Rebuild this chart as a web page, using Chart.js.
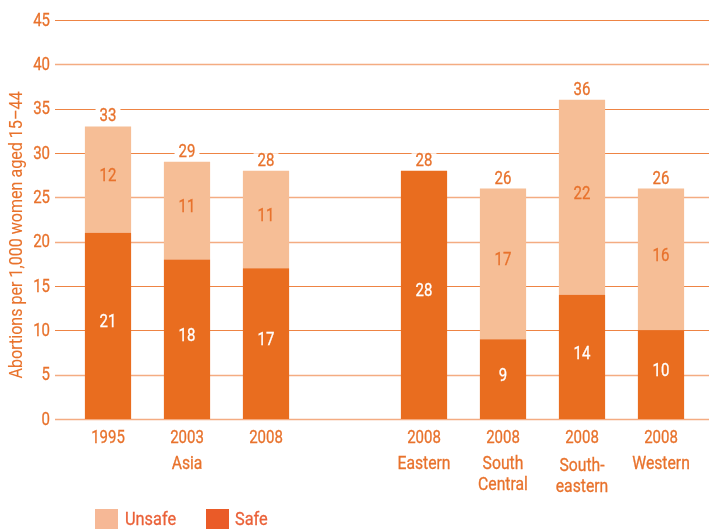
<!DOCTYPE html>
<html>
<head>
<meta charset="utf-8">
<script src="https://cdn.jsdelivr.net/npm/chart.js@4/dist/chart.umd.min.js"></script>
<style>
  html, body { margin: 0; padding: 0; background: #ffffff; }
  #wrap { width: 709px; height: 529px; position: relative; }
</style>
</head>
<body>
<div id="wrap"><canvas id="c" width="709" height="529"></canvas></div>
<script>
// ---- data ----
const years   = ['1995', '2003', '2008', '', '2008', '2008', '2008', '2008'];
const regions = [[], ['Asia'], [], [], ['Eastern'], ['South', 'Central'], ['South-', 'eastern'], ['Western']];
const safe    = [21, 18, 17, null, 28, 9, 14, 10];
const unsafe  = [12, 11, 11, null, 0, 17, 22, 16];
const totals  = [33, 29, 28, null, 28, 26, 36, 26];
const yTicks  = [0, 5, 10, 15, 20, 25, 30, 35, 40, 45];
const yTitle  = 'Abortions per 1,000 women aged 15\u201344';
const seriesNames = ['Unsafe', 'Safe'];

// ---- style ----
const FONT = "Roboto, 'Liberation Sans', sans-serif";
const SX = 0.82;
const FS = 18.3;
const TEXT = '#E8722C';
const DARK = '#E96D1F';
const LIGHT = '#F6BE96';
const GRID_DARK = '#EE8444';
const GRID_LIGHT = '#F4AC82';

function txt(ctx, s, x, y, size, align, color, sx, sw) {
  ctx.save();
  ctx.font = size + 'px ' + FONT;
  ctx.fillStyle = color;
  ctx.strokeStyle = color;
  ctx.lineWidth = sw === undefined ? 0.3 : sw;
  ctx.textAlign = align;
  ctx.textBaseline = 'middle';
  ctx.translate(x, y);
  ctx.scale(sx === undefined ? SX : sx, 1);
  ctx.fillText(s, 0, 0);
  if (ctx.lineWidth > 0) ctx.strokeText(s, 0, 0);
  ctx.restore();
}

const decor = {
  id: 'decor',
  beforeDatasetsDraw(chart) {
    const ctx = chart.ctx, y = chart.scales.y;
    ctx.save();
    yTicks.forEach(v => {
      const py = Math.round(y.getPixelForValue(v)) + 0.5;
      const light = (v === 0 || v === 5 || v === 20 || v === 25 || v === 40);
      ctx.strokeStyle = light ? GRID_LIGHT : GRID_DARK;
      ctx.lineWidth = light ? 1.6 : 1.1;
      ctx.beginPath();
      ctx.moveTo(55, py);
      ctx.lineTo(709, py);
      ctx.stroke();
    });
    yTicks.forEach(v => txt(ctx, String(v), 50, y.getPixelForValue(v) + 1, FS, 'right', TEXT));
    // y title (rotated)
    ctx.save();
    ctx.translate(18, 235);
    ctx.rotate(-Math.PI / 2);
    ctx.font = '17.5px ' + FONT;
    const w = ctx.measureText(yTitle).width;
    txt(ctx, yTitle, 0, 0, 17.5, 'center', TEXT, 287 / w, 0.1);
    ctx.restore();
    ctx.restore();
  },
  afterDatasetsDraw(chart) {
    const ctx = chart.ctx, x = chart.scales.x, y = chart.scales.y;
    ctx.save();
    years.forEach((yr, i) => {
      const px = x.getPixelForValue(i);
      if (safe[i] !== null) {
        if (safe[i] > 0) txt(ctx, String(safe[i]), px, y.getPixelForValue(safe[i] / 2) - 3, FS, 'center', '#ffffff');
        if (unsafe[i] > 0) txt(ctx, String(unsafe[i]), px, y.getPixelForValue(safe[i] + unsafe[i] / 2) - 3, FS, 'center', TEXT);
        const ty = y.getPixelForValue(totals[i]) - 9.5;
        ctx.font = FS + 'px ' + FONT;
        const tw = ctx.measureText(String(totals[i])).width * SX;
        ctx.fillStyle = '#ffffff';
        ctx.fillRect(px - tw / 2 - 4, ty - 8, tw + 8, 16);
        txt(ctx, String(totals[i]), px, ty, FS, 'center', TEXT);
      }
      if (yr) txt(ctx, yr, px, 438.5, FS, 'center', TEXT);
      const reg = regions[i];
      const extra = reg.length === 2 && reg[0].endsWith('-') ? 2 : 0;
      reg.forEach((r, k) => txt(ctx, r, px, 464 + extra + k * 21, FS, 'center', TEXT, 0.86));
    });
    // legend
    ctx.fillStyle = '#F6B896';
    ctx.fillRect(95, 509, 23, 22);
    txt(ctx, seriesNames[0], 125, 520, 19, 'left', '#EA6138', 0.86);
    ctx.fillStyle = '#EA5B28';
    ctx.fillRect(206, 509, 23, 22);
    txt(ctx, seriesNames[1], 235, 520, 19, 'left', '#EA6138', 0.86);
    ctx.restore();
  }
};

new Chart(document.getElementById('c'), {
  type: 'bar',
  data: {
    labels: years.map((y, i) => [y].concat(regions[i])),
    datasets: [
      { label: seriesNames[1], data: safe, backgroundColor: DARK, borderWidth: 0 },
      { label: seriesNames[0], data: unsafe, backgroundColor: LIGHT, borderWidth: 0 }
    ]
  },
  options: {
    responsive: false,
    animation: false,
    devicePixelRatio: 1,
    layout: { padding: { left: 68.5, right: 8.5, top: 20, bottom: 110 } },
    datasets: { bar: { barPercentage: 1, categoryPercentage: 0.585 } },
    plugins: { legend: { display: false }, tooltip: { enabled: false } },
    scales: {
      x: { stacked: true, display: false },
      y: { stacked: true, display: false, min: 0, max: 45 }
    }
  },
  plugins: [decor]
});
</script>
</body>
</html>
